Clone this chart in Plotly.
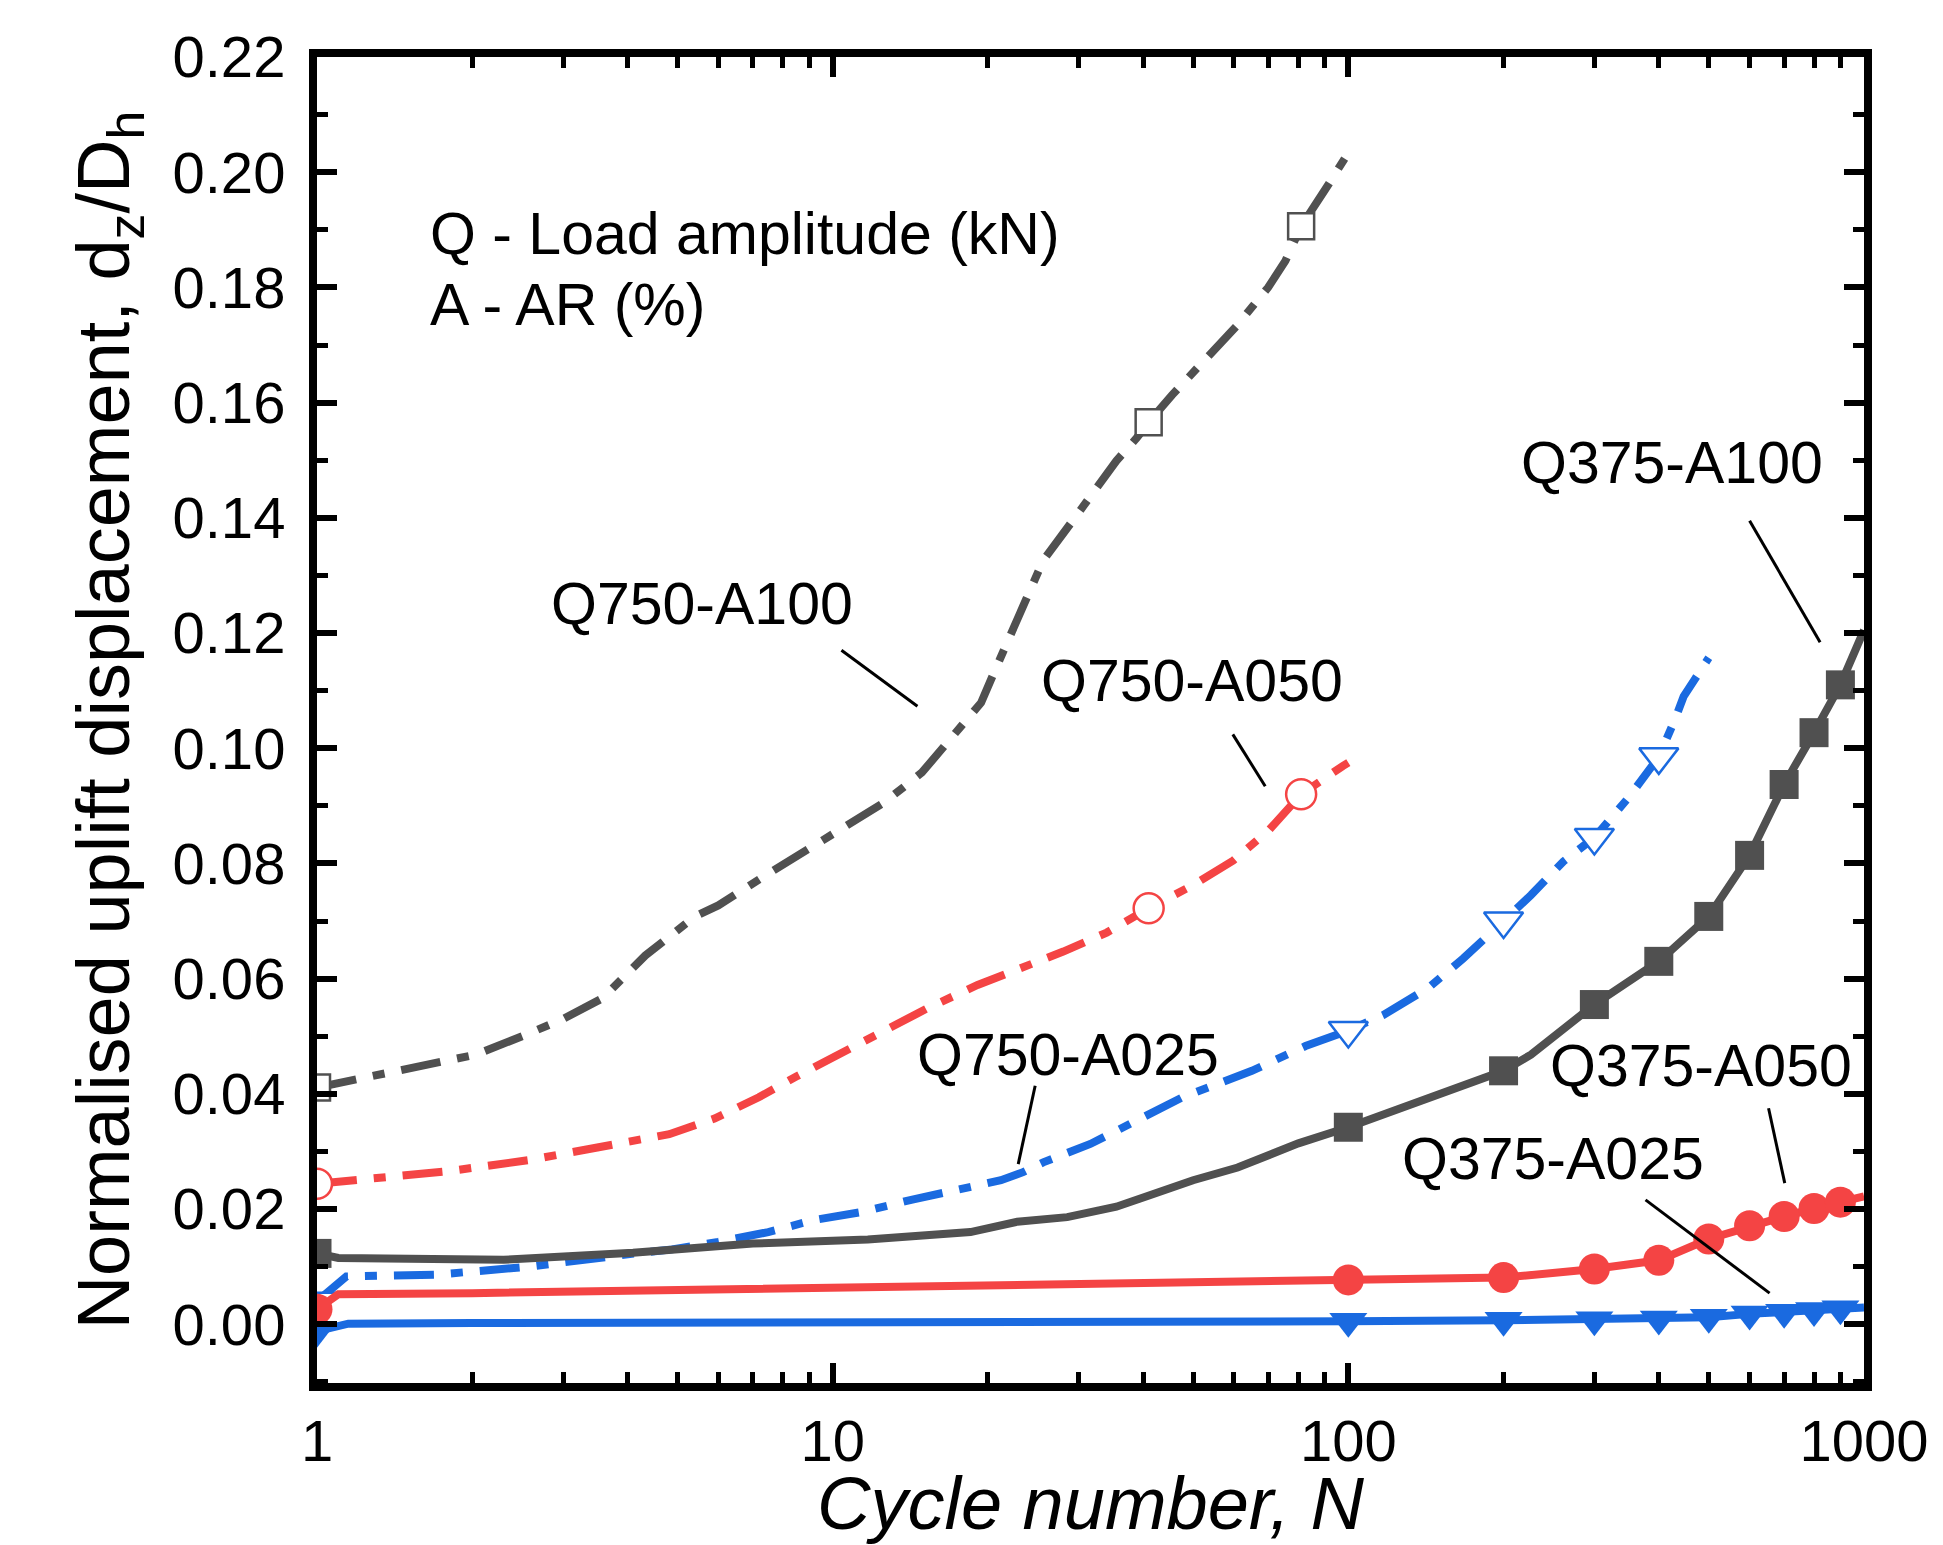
import math
import plotly.graph_objects as go

# ---------------- data ----------------
# Q750-A100 (grey, dash-dot, open squares)
n_q750_a100 = [1, 1.54, 2.03, 2.5, 3, 3.58, 4.33, 5.41, 6.0, 7.4, 8.8, 10.6, 12.6, 14.9, 17.2, 19.4, 20.8,
               22.2, 23.8, 25.6, 29.2, 32.5, 35.5, 38.9, 41, 45.5, 52, 57.5, 60.7, 69.9, 75.5, 81, 86, 91.7,
               98.9, 100]
v_q750_a100 = [0.0411, 0.0445, 0.0468, 0.050, 0.053, 0.0566, 0.064, 0.0708, 0.0727, 0.0779, 0.082, 0.0863,
               0.0906, 0.0958, 0.1021, 0.1079, 0.1142, 0.120, 0.1269, 0.1326, 0.1395, 0.1452, 0.1499, 0.1539,
               0.1566, 0.1613, 0.167, 0.1713, 0.1733, 0.180, 0.1846, 0.1906, 0.194, 0.198, 0.2027, 0.204]
mk_q750_a100 = [1, 41, 81]

# Q750-A050 (red, dash-dot, open circles)
n_q750_a050 = [1, 1.365, 1.81, 2.58, 3.91, 4.82, 5.9, 7.19, 8.5, 10.4, 12.6, 15.3, 19.1, 22.8, 28, 34, 41,
               49.9, 59.8, 70, 81, 97.5, 100]
v_q750_a050 = [0.0244, 0.0255, 0.0266, 0.0285, 0.0313, 0.033, 0.0357, 0.0394, 0.043, 0.0471, 0.0509, 0.0549,
               0.0589, 0.0615, 0.0647, 0.068, 0.0722, 0.0762, 0.0805, 0.0857, 0.092, 0.0969, 0.0975]
mk_q750_a050 = [1, 41, 81]

# Q750-A025 (blue, dash-dot, open down-triangles)
n_q750_a025 = [1, 1.14, 1.7, 2.58, 4.14, 4.88, 6.0, 7.5, 9.2, 11.4, 14.2, 17.2, 21.2, 23.4, 25.6, 31.6, 38.9,
               47.7, 65, 82.6, 100, 117, 143, 167, 200, 226, 261, 300, 350, 400, 430, 447, 470, 500]
v_q750_a025 = [0.004, 0.0083, 0.0086, 0.010, 0.0123, 0.013, 0.0143, 0.016, 0.0181, 0.0195, 0.0216, 0.0233,
               0.025, 0.0264, 0.0281, 0.0313, 0.0354, 0.0394, 0.044, 0.0483, 0.051, 0.0537, 0.0584, 0.0635,
               0.070, 0.0745, 0.0803, 0.0845, 0.0915, 0.0985, 0.105, 0.109, 0.112, 0.1157]
mk_q750_a025 = [1, 100, 200, 300, 400]

# Q375-A100 (grey, solid, filled squares)
n_q375_a100 = [1, 1.1, 2.3, 4.1, 7.0, 11.7, 18.5, 22.8, 28.5, 35.5, 41.2, 50, 61, 80, 100, 139, 200, 226,
               300, 400, 500, 600, 700, 800, 900, 1000]
v_q375_a100 = [0.0123, 0.0115, 0.0112, 0.0124, 0.014, 0.0147, 0.016, 0.0178, 0.0186, 0.0204, 0.0224, 0.025,
               0.0272, 0.0314, 0.0342, 0.0389, 0.044, 0.0468, 0.0555, 0.063, 0.0708, 0.0814, 0.0937, 0.1027,
               0.111, 0.1205]

# Q375-A050 (red, solid, filled circles)
n_q375_a050 = [1, 1.1, 2, 5, 10, 20, 50, 100, 200, 300, 400, 500, 600, 700, 800, 900, 1000]
v_q375_a050 = [0.0026, 0.0052, 0.0054, 0.006, 0.0064, 0.0068, 0.0072, 0.0077, 0.0081, 0.0096, 0.0111,
               0.0148, 0.0171, 0.0187, 0.0201, 0.0212, 0.0222]

# Q375-A025 (blue, solid, filled down-triangles)
n_q375_a025 = [1, 1.15, 2, 5, 10, 20, 50, 100, 200, 300, 400, 500, 600, 700, 800, 900, 1000]
v_q375_a025 = [-0.0012, 0.0001, 0.0002, 0.0002, 0.0002, 0.0002, 0.0003, 0.0005, 0.0007, 0.0008, 0.0009,
               0.0012, 0.0018, 0.0021, 0.0024, 0.0027, 0.0029]

mk_q375 = [1, 100, 200, 300, 400, 500, 600, 700, 800, 900]

x_ticks = [1, 10, 100, 1000]
x_tick_text = ["1", "10", "100", "1000"]

# ---------------- styles ----------------
GREY = "#505050"
RED = "#f44444"
BLUE = "#1a6ae0"
DASHDOT = "40px,17px,12px,17px"
FONT = "Liberation Sans, Arial, sans-serif"

fig = go.Figure()


def add_series(n, v, marks, color, dash, symbol, filled, msize, lw):
    fig.add_trace(go.Scatter(x=n, y=v, mode="lines",
                             line=dict(color=color, width=lw, dash=dash),
                             hoverinfo="skip", showlegend=False))
    mx = [a for a in n if a in marks]
    my = [b for a, b in zip(n, v) if a in marks]
    fig.add_trace(go.Scatter(x=mx, y=my, mode="markers",
                             marker=dict(symbol=symbol, size=msize,
                                         color=color if filled else "white",
                                         line=dict(color=color, width=0 if filled else 2.5)),
                             hoverinfo="skip", showlegend=False))


add_series(n_q750_a100, v_q750_a100, mk_q750_a100, GREY, DASHDOT, "square", False, 26, 8)
add_series(n_q750_a050, v_q750_a050, mk_q750_a050, RED, DASHDOT, "circle", False, 30, 8)
add_series(n_q750_a025, v_q750_a025, mk_q750_a025, BLUE, DASHDOT, "triangle-down", False, 34, 8)
add_series(n_q375_a100, v_q375_a100, mk_q375, GREY, "solid", "square", True, 29, 8)
add_series(n_q375_a050, v_q375_a050, mk_q375, RED, "solid", "circle", True, 31, 8)
add_series(n_q375_a025, v_q375_a025, mk_q375, BLUE, "solid", "triangle-down", True, 33, 8)

# ---------------- labels & leader lines ----------------
labels = [
    ("Q750-A100", 5.58, 0.1251, (10.4, 0.1170), (14.6, 0.1073)),
    ("Q750-A050", 49.7, 0.1116, (59.7, 0.1024), (69.0, 0.0934)),
    ("Q750-A025", 28.6, 0.0468, (24.7, 0.0414), (22.9, 0.0278)),
    ("Q375-A100", 425, 0.1495, (600, 0.1395), (822, 0.1184)),
    ("Q375-A050", 483, 0.0449, (653, 0.0375), (702, 0.0245)),
    ("Q375-A025", 249, 0.0287, (377, 0.0216), (656, 0.0054)),
]
for text, lx, ly, p0, p1 in labels:
    fig.add_annotation(x=math.log10(lx), y=ly, text=text, showarrow=False,
                       xanchor="center", yanchor="middle",
                       font=dict(family=FONT, size=59, color="black"))
    fig.add_trace(go.Scatter(x=[p0[0], p1[0]], y=[p0[1], p1[1]], mode="lines",
                             line=dict(color="black", width=3),
                             hoverinfo="skip", showlegend=False))

fig.add_annotation(x=math.log10(1.64), y=0.1892, text="Q - Load amplitude (kN)", showarrow=False,
                   xanchor="left", yanchor="middle", font=dict(family=FONT, size=59, color="black"))
fig.add_annotation(x=math.log10(1.64), y=0.1769, text="A - AR (%)", showarrow=False,
                   xanchor="left", yanchor="middle", font=dict(family=FONT, size=59, color="black"))

# ---------------- axes ----------------
axis_common = dict(showgrid=False, zeroline=False, showline=True, linecolor="black", linewidth=8,
                   mirror="ticks", ticks="inside", ticklen=20, tickwidth=6, tickcolor="black",
                   tickfont=dict(family=FONT, size=58, color="black"))

fig.update_xaxes(type="log", range=[0, 3], tickmode="array", tickvals=x_ticks, ticktext=x_tick_text,
                 minor=dict(ticks="inside", ticklen=11, tickwidth=5, tickcolor="black", dtick="D1",
                            showgrid=False),
                 title=dict(text="<i>Cycle number, N</i>", font=dict(family=FONT, size=74, color="black"),
                            standoff=4),
                 **axis_common)
fig.update_yaxes(range=[-0.0102, 0.22], tick0=0, dtick=0.02, tickformat=".2f",
                 minor=dict(ticks="inside", ticklen=11, tickwidth=5, tickcolor="black", dtick=0.01,
                            showgrid=False),
                 ticklabelstandoff=12,
                 title=dict(text="Normalised uplift displacement, d<sub>z</sub>/D<sub>h</sub>",
                            font=dict(family=FONT, size=74, color="black"), standoff=22),
                 **axis_common)

fig.update_layout(width=1943, height=1545, plot_bgcolor="white", paper_bgcolor="white",
                  margin=dict(l=317, r=79, t=57, b=162, autoexpand=False), showlegend=False,
                  font=dict(family=FONT))

fig.write_html("out.html")
